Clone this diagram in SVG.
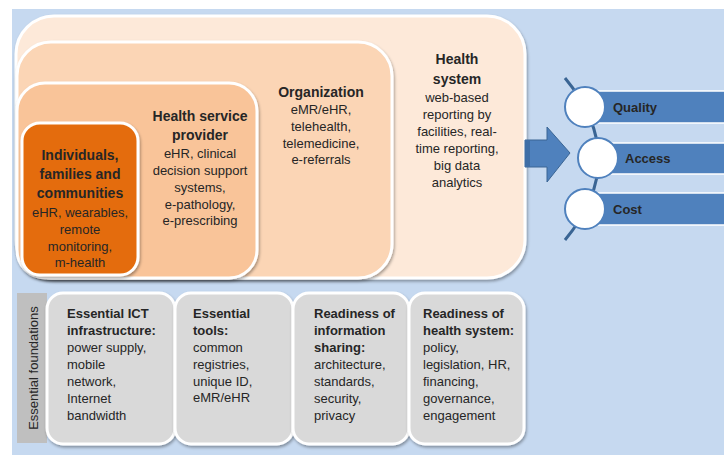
<svg xmlns="http://www.w3.org/2000/svg" width="724" height="455" viewBox="0 0 724 455">
<defs>
<filter id="sh" x="-10%" y="-10%" width="120%" height="125%">
<feDropShadow dx="1" dy="2" stdDeviation="1.5" flood-color="#000" flood-opacity="0.35"/>
</filter>
<style>
text{font-family:"Liberation Sans",Arial,sans-serif;fill:#262626}
.b{font-weight:bold}
.t{font-size:13px}
.h{font-size:14px}
.c{text-anchor:middle}
.layer{stroke:#fff;stroke-width:3;filter:url(#sh)}
.fb{fill:#d9d9d9;stroke:#fff;stroke-width:3;filter:url(#sh)}
.bar{fill:#4f81bd;stroke:#fff;stroke-width:1.5}
.circ{fill:#fff;stroke:#4f81bd;stroke-width:2}
.lnk{fill:none;stroke:#4f81bd;stroke-width:2.2}
</style>
</defs>
<rect x="0" y="0" width="724" height="455" fill="#fff"/>
<rect x="12" y="9" width="712" height="446" fill="#c6d9f0"/>

<g id="health-system">
<rect class="layer" x="16" y="16" width="509" height="262" rx="38" fill="#fde9d9"/>
<text class="b h c" x="457" y="64">Health</text>
<text class="b h c" x="457" y="84">system</text>
<text class="t c" x="457" y="102">web-based</text>
<text class="t c" x="457" y="119">reporting by</text>
<text class="t c" x="457" y="136">facilities, real-</text>
<text class="t c" x="457" y="153">time reporting,</text>
<text class="t c" x="457" y="170">big data</text>
<text class="t c" x="457" y="187">analytics</text>
</g>

<g id="organization">
<rect class="layer" x="17" y="42" width="375" height="236" rx="34" fill="#fbd5b5"/>
<text class="b h c" x="321" y="97">Organization</text>
<text class="t c" x="321" y="114">eMR/eHR,</text>
<text class="t c" x="321" y="131">telehealth,</text>
<text class="t c" x="321" y="148">telemedicine,</text>
<text class="t c" x="321" y="164">e-referrals</text>
</g>

<g id="health-service-provider">
<rect class="layer" x="17" y="83" width="240" height="195" rx="28" fill="#f9c499"/>
<text class="b h c" x="200" y="121">Health service</text>
<text class="b h c" x="200" y="140">provider</text>
<text class="t c" x="200" y="158">eHR, clinical</text>
<text class="t c" x="200" y="175">decision support</text>
<text class="t c" x="200" y="192">systems,</text>
<text class="t c" x="200" y="209">e-pathology,</text>
<text class="t c" x="200" y="225">e-prescribing</text>
</g>

<g id="individuals">
<rect class="layer" x="22" y="123" width="116" height="152" rx="18" fill="#e46c0a" stroke-width="2.5"/>
<text class="b h c" x="80" y="160">Individuals,</text>
<text class="b h c" x="80" y="179">families and</text>
<text class="b h c" x="80" y="198">communities</text>
<text class="t c" x="80" y="217">eHR, wearables,</text>
<text class="t c" x="80" y="234">remote</text>
<text class="t c" x="80" y="251">monitoring,</text>
<text class="t c" x="80" y="267">m-health</text>
</g>

<g id="big-arrow">
<path d="M525,140 H547 V127 L570,153 L547,182 V167 H525 Z" fill="#4f81bd" stroke="#3a6594" stroke-width="1"/>
<rect x="525" y="140" width="5" height="27" fill="#3f6ea6"/>
</g>

<g id="connectors">
<path d="M565,78 Q632,159 565,240" fill="none" stroke="#3a6594" stroke-width="3"/>
<path class="lnk" d="M158,352 Q172,341 185,351"/>
<path class="lnk" d="M158,375 Q172,386 185,375"/>
<path class="lnk" d="M278,352 Q292,341 305,351"/>
<path class="lnk" d="M278,375 Q292,386 305,375"/>
<path class="lnk" d="M392,352 Q406,341 419,351"/>
<path class="lnk" d="M392,375 Q406,386 419,375"/>
</g>

<g id="quality">
<rect class="bar" x="590" y="91" width="140" height="32"/>
<circle class="circ" cx="585" cy="107" r="20"/>
<text class="b t" x="613" y="112">Quality</text>
</g>
<g id="access">
<rect class="bar" x="600" y="143" width="130" height="31"/>
<circle class="circ" cx="598" cy="158" r="20"/>
<text class="b t" x="625" y="163">Access</text>
</g>
<g id="cost">
<rect class="bar" x="590" y="193" width="140" height="32"/>
<circle class="circ" cx="585" cy="209" r="20"/>
<text class="b t" x="613" y="214">Cost</text>
</g>

<g id="essential-foundations">
<rect x="17" y="293" width="30" height="150" fill="#bfbfbf"/>
<text class="t c" transform="translate(38,368) rotate(-90)" x="0" y="0">Essential foundations</text>
</g>

<g id="ict-infrastructure">
<rect class="fb" x="47" y="293" width="128" height="151" rx="16"/>
<text class="b t" x="67" y="318">Essential ICT</text>
<text class="b t" x="67" y="335">infrastructure:</text>
<text class="t" x="67" y="352">power supply,</text>
<text class="t" x="67" y="369">mobile</text>
<text class="t" x="67" y="386">network,</text>
<text class="t" x="67" y="403">Internet</text>
<text class="t" x="67" y="420">bandwidth</text>
</g>

<g id="essential-tools">
<rect class="fb" x="175" y="293" width="118" height="151" rx="16"/>
<text class="b t" x="193" y="318">Essential</text>
<text class="b t" x="193" y="335">tools:</text>
<text class="t" x="193" y="352">common</text>
<text class="t" x="193" y="369">registries,</text>
<text class="t" x="193" y="386">unique ID,</text>
<text class="t" x="193" y="402">eMR/eHR</text>
</g>

<g id="info-sharing">
<rect class="fb" x="293" y="293" width="116" height="151" rx="16"/>
<text class="b t" x="314" y="318">Readiness of</text>
<text class="b t" x="314" y="335">information</text>
<text class="b t" x="314" y="352">sharing:</text>
<text class="t" x="314" y="369">architecture,</text>
<text class="t" x="314" y="386">standards,</text>
<text class="t" x="314" y="403">security,</text>
<text class="t" x="314" y="420">privacy</text>
</g>

<g id="health-system-readiness">
<rect class="fb" x="409" y="293" width="115" height="151" rx="16"/>
<text class="b t" x="423" y="318">Readiness of</text>
<text class="b t" x="423" y="335">health system:</text>
<text class="t" x="423" y="352">policy,</text>
<text class="t" x="423" y="369">legislation, HR,</text>
<text class="t" x="423" y="386">financing,</text>
<text class="t" x="423" y="403">governance,</text>
<text class="t" x="423" y="420">engagement</text>
</g>
</svg>
